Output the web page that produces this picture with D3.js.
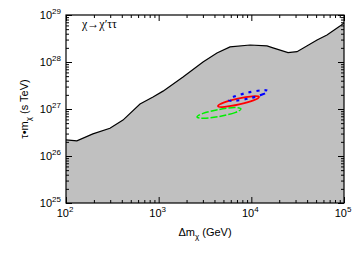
<!DOCTYPE html>
<html>
<head>
<meta charset="utf-8">
<script src="https://cdn.jsdelivr.net/npm/d3@7"></script>
<style>
  body { margin: 0; background: #fff; }
  text { font-family: "Liberation Sans", Arial, sans-serif; fill: #000; }
</style>
</head>
<body>
<div class="canvas"></div>
<script>
var w = 362;
var h = 254;

// lifetime bound curve
var massVals = [100, 131, 195, 298, 412, 629, 869, 1114, 1832, 3009, 4256, 5888, 9690, 14760, 17130, 24900, 31100, 51200, 65500, 90500, 100000];
var tauVals = [2.2e26, 2.1e26, 2.96e26, 3.9e26, 5.8e26, 1.28e27, 1.8e27, 2.4e27, 4.8e27, 1.0e28, 1.55e28, 2.1e28, 2.3e28, 2.2e28, 2.0e28, 1.58e28, 1.66e28, 2.94e28, 3.75e28, 5.8e28, 6.8e28];

// contour points (mass, tau)
var redMass = [12090, 10520, 7380, 5133, 4365, 5020, 7160, 10290];
var redTau = [1.81e27, 1.52e27, 1.25e27, 1.11e27, 1.15e27, 1.37e27, 1.66e27, 1.86e27];
var greenMass = [7730, 6660, 4545, 3077, 2592, 3008, 4412, 6517];
var greenTau = [1.0e27, 8.38e26, 6.96e26, 6.34e26, 6.76e26, 8.06e26, 9.71e26, 1.07e27];
var blueMass = [15130, 13290, 9480, 6697, 5741, 6531, 9160, 12970];
var blueTau = [2.41e27, 2.05e27, 1.68e27, 1.50e27, 1.55e27, 1.84e27, 2.23e27, 2.50e27];

var xMajor = [2, 3, 4, 5];
var yMajor = [25, 26, 27, 28, 29];

var pLeft = 66, pRight = 344, pTop = 15, pBottom = 203;

var xScale = d3.scaleLog()
    .domain([1e2, 1e5])
    .range([pLeft, pRight]);

var yScale = d3.scaleLog()
    .domain([1e25, 1e29])
    .range([pBottom, pTop]);

var svg = d3.select(".canvas").append("svg")
    .attr("width", w)
    .attr("height", h);

// shaded excluded region
var area = d3.area()
    .x(function (d, i) { return xScale(massVals[i]); })
    .y0(pBottom)
    .y1(function (d, i) { return yScale(tauVals[i]); });

svg.append("path")
    .attr("d", area(massVals))
    .attr("fill", "#c0c0c0");

var line = d3.line()
    .x(function (d, i) { return xScale(massVals[i]); })
    .y(function (d, i) { return yScale(tauVals[i]); });

svg.append("path")
    .attr("d", line(massVals))
    .attr("fill", "none")
    .attr("stroke", "#000")
    .attr("stroke-width", 1.2);

// contours
function contour(ms, ts, color, dash, sw) {
    var pts = ms.map(function (m, i) { return [xScale(m), yScale(ts[i])]; });
    var p = svg.append("path")
        .attr("d", d3.line().curve(d3.curveCardinalClosed)(pts))
        .attr("fill", "none")
        .attr("stroke", color)
        .attr("stroke-width", sw);
    if (dash) p.style("stroke-dasharray", dash);
}
contour(greenMass, greenTau, "#00ee00", "7,2", 1.5);
contour(redMass, redTau, "#ff0000", null, 1.8);
contour(blueMass, blueTau, "#0000ff", "3,5", 2.2);

// ticks
var xMinor = [], yMinor = [];
xMajor.forEach(function (e) {
    if (e < 5) for (var k = 2; k < 10; k++) xMinor.push(k * Math.pow(10, e));
});
yMajor.forEach(function (e) {
    if (e < 29) for (var k = 2; k < 10; k++) yMinor.push(k * Math.pow(10, e));
});
var xMajVals = xMajor.map(function (e) { return Math.pow(10, e); });
var yMajVals = yMajor.map(function (e) { return Math.pow(10, e); });

function addAxis(gen, vals, size, tr) {
    var g = svg.append("g")
        .attr("transform", tr)
        .call(gen.tickValues(vals).tickSize(size).tickFormat(""));
    g.select(".domain").remove();
    g.selectAll("line").attr("stroke", "#000");
}
addAxis(d3.axisBottom(xScale), xMajVals, -6, "translate(0," + pBottom + ")");
addAxis(d3.axisBottom(xScale), xMinor, -3, "translate(0," + pBottom + ")");
addAxis(d3.axisTop(xScale), xMajVals, -6, "translate(0," + pTop + ")");
addAxis(d3.axisTop(xScale), xMinor, -3, "translate(0," + pTop + ")");
addAxis(d3.axisLeft(yScale), yMajVals, -6, "translate(" + pLeft + ",0)");
addAxis(d3.axisLeft(yScale), yMinor, -3, "translate(" + pLeft + ",0)");
addAxis(d3.axisRight(yScale), yMajVals, -6, "translate(" + pRight + ",0)");
addAxis(d3.axisRight(yScale), yMinor, -3, "translate(" + pRight + ",0)");

svg.append("rect")
    .attr("x", pLeft).attr("y", pTop)
    .attr("width", pRight - pLeft).attr("height", pBottom - pTop)
    .attr("fill", "none").attr("stroke", "#000").attr("stroke-width", 1.2);

// tick labels
xMajor.forEach(function (e) {
    var t = svg.append("text")
        .attr("x", xScale(Math.pow(10, e)) - 1)
        .attr("y", 217)
        .attr("text-anchor", "middle")
        .attr("font-size", 11);
    t.append("tspan").text("10");
    t.append("tspan").attr("dy", -5).attr("font-size", 8).text(e);
});
yMajor.forEach(function (e) {
    var t = svg.append("text")
        .attr("x", 61)
        .attr("y", yScale(Math.pow(10, e)) + 4)
        .attr("text-anchor", "end")
        .attr("font-size", 11);
    t.append("tspan").text("10");
    t.append("tspan").attr("dy", -5).attr("font-size", 8).text(e);
});

// axis titles
var xt = svg.append("text")
    .attr("x", 205).attr("y", 236)
    .attr("text-anchor", "middle")
    .attr("font-size", 11);
xt.append("tspan").text("Δm");
xt.append("tspan").attr("dy", 3).attr("font-size", 8).text("χ");
xt.append("tspan").attr("dy", -3).text(" (GeV)");

var yt = svg.append("text")
    .attr("transform", "translate(28,109) rotate(-90)")
    .attr("text-anchor", "middle")
    .attr("font-size", 11);
yt.append("tspan").text("τ•m");
yt.append("tspan").attr("dy", 3).attr("font-size", 8).text("χ");
yt.append("tspan").attr("dy", -3).text(" (s TeV)");

svg.append("text")
    .attr("x", 82).attr("y", 28)
    .style("font-family", "'Liberation Serif', serif")
    .attr("font-size", 12)
    .text("χ→χ′ττ");
</script>
</body>
</html>
